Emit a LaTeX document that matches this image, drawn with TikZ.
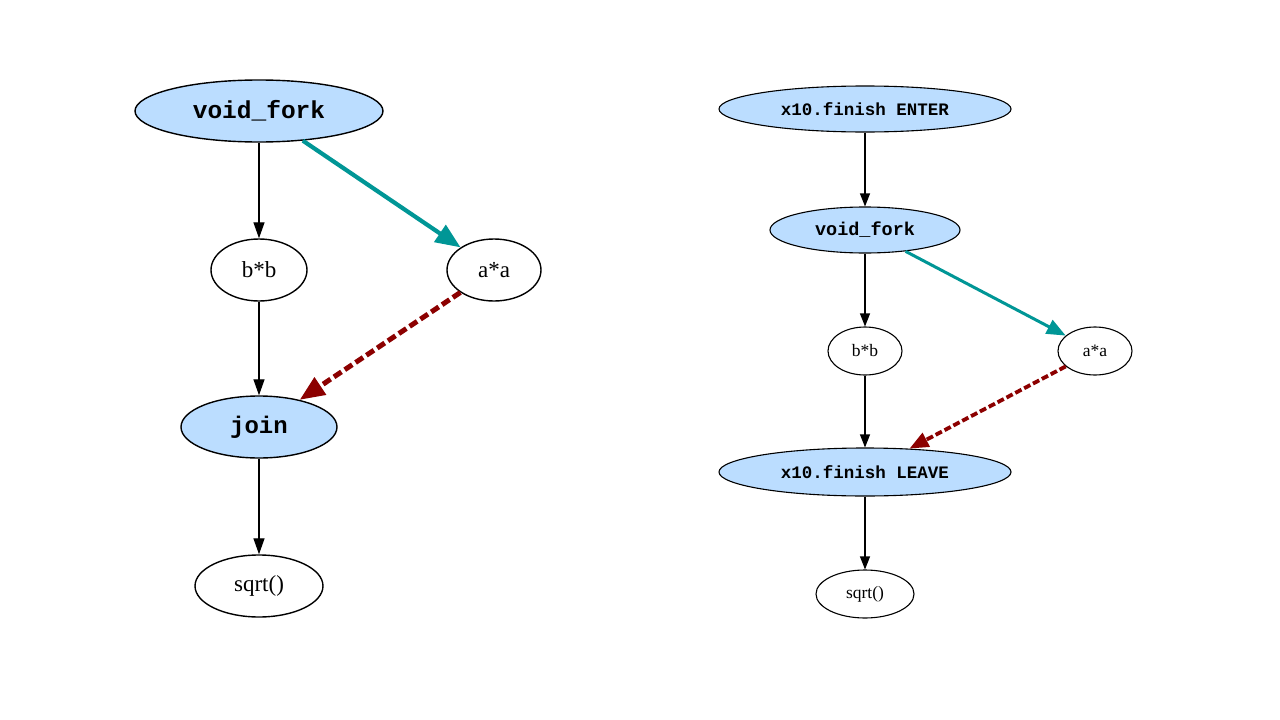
\documentclass[tikz,border=0pt]{standalone}
\usepackage{fontspec}
\setmainfont{Liberation Serif}
\newfontfamily\monob{Liberation Mono}
\usetikzlibrary{shapes.geometric,arrows.meta}
\definecolor{nodeblue}{RGB}{187,221,255}
\definecolor{tealedge}{RGB}{0,150,150}
\definecolor{rededge}{RGB}{140,0,0}
\tikzset{
  ell/.style={shape=ellipse, draw=black, inner sep=0pt},
  bigell/.style={ell, line width=1.4pt},
  smallell/.style={ell, line width=1.1pt},
  bluefill/.style={fill=nodeblue},
  blk/.style={draw=black, line width=1.3pt, -{Triangle[length=16pt,width=11pt]}},
  blksm/.style={draw=black, line width=1.1pt, -{Triangle[length=13pt,width=10pt]}},
  tealarr/.style={draw=tealedge, line width=4.2pt, -{Triangle[length=25pt,width=20pt]}},
  tealarrsm/.style={draw=tealedge, line width=3pt, -{Triangle[length=19pt,width=15pt]}},
  redarr/.style={draw=rededge, line width=5pt, dash pattern=on 9pt off 4pt, -{Triangle[length=25pt,width=20pt]}},
  redarrsm/.style={draw=rededge, line width=3.8pt, dash pattern=on 7pt off 3pt, -{Triangle[length=19pt,width=15pt]}},
}
\begin{document}
\begin{tikzpicture}[x=1pt,y=-1pt]
\path[use as bounding box, fill=white] (0,0) rectangle (1280,720);
% left graph
\node[bigell,bluefill,minimum width=248pt,minimum height=62pt,font=\monob\bfseries\fontsize{24.5}{28}\selectfont] (vf) at (259,111) {void\_fork};
\node[bigell,minimum width=96pt,minimum height=62pt,font=\fontsize{23}{26}\selectfont] (bb) at (259,270) {b*b};
\node[bigell,minimum width=94pt,minimum height=62pt,font=\fontsize{23}{26}\selectfont] (aa) at (494,270) {a*a};
\node[bigell,bluefill,minimum width=156pt,minimum height=62pt,font=\monob\bfseries\fontsize{24}{27}\selectfont] (jn) at (259,427) {join};
\node[bigell,minimum width=128pt,minimum height=62pt,font=\fontsize{23}{26}\selectfont] (sq) at (259,586) {sqrt()};
\draw[blk] (vf) -- (bb);
\draw[tealarr] (vf) -- (aa);
\draw[blk] (bb) -- (jn);
\draw[redarr] (aa) -- (jn);
\draw[blk] (jn) -- (sq);
% right graph
\node[smallell,bluefill,minimum width=292pt,minimum height=46pt,font=\monob\bfseries\fontsize{17.5}{20}\selectfont] (en) at (865,109) {x10.finish ENTER};
\node[smallell,bluefill,minimum width=190pt,minimum height=46pt,font=\monob\bfseries\fontsize{18.5}{20}\selectfont] (vf2) at (865,230) {void\_fork};
\node[smallell,minimum width=74pt,minimum height=48pt,font=\fontsize{17.5}{20}\selectfont] (bb2) at (865,351) {b*b};
\node[smallell,minimum width=74pt,minimum height=48pt,font=\fontsize{17.5}{20}\selectfont] (aa2) at (1095,351) {a*a};
\node[smallell,bluefill,minimum width=292pt,minimum height=48pt,font=\monob\bfseries\fontsize{17.5}{20}\selectfont] (lv) at (865,472) {x10.finish LEAVE};
\node[smallell,minimum width=98pt,minimum height=48pt,font=\fontsize{17.5}{20}\selectfont] (sq2) at (865,594) {sqrt()};
\draw[blksm] (en) -- (vf2);
\draw[blksm] (vf2) -- (bb2);
\draw[tealarrsm] (vf2) -- (aa2);
\draw[blksm] (bb2) -- (lv);
\draw[redarrsm] (aa2) -- (lv);
\draw[blksm] (lv) -- (sq2);
\end{tikzpicture}
\end{document}
